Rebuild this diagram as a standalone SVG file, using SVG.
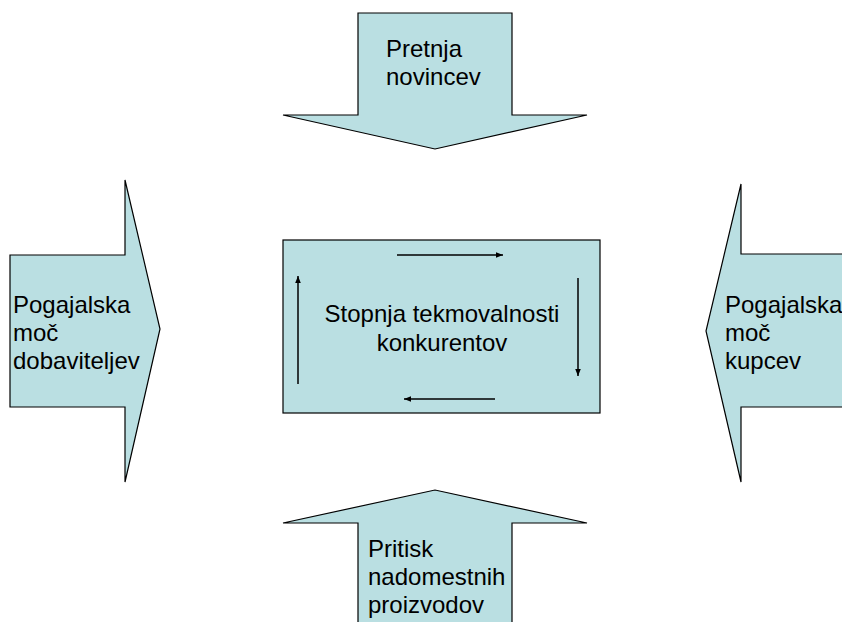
<svg xmlns="http://www.w3.org/2000/svg" width="842" height="622" viewBox="0 0 842 622">
<style>
.shape{fill:#badfe2;stroke:#000;stroke-width:1.2}
.t{font-family:"Liberation Sans",Arial,sans-serif;font-size:24px;fill:#000}
.c{stroke:#000;stroke-width:1.5;fill:none;marker-end:url(#ah)}
</style>
<defs>
<marker id="ah" viewBox="0 0 10 10" refX="10" refY="5" markerWidth="8" markerHeight="7" orient="auto" markerUnits="userSpaceOnUse">
<path d="M0,1 L10,5 L0,9 Z" fill="#000"/>
</marker>
</defs>
<rect width="842" height="622" fill="#fff"/>
<g id="top-arrow">
<polygon class="shape" points="358,13 512,13 512,115 587,115 435,149 283,115 358,115"/>
<text class="t" x="386" y="57">Pretnja</text>
<text class="t" x="386" y="85">novincev</text>
</g>
<g id="left-arrow">
<polygon class="shape" points="10,255 125,255 125,180 160,329 125,482 125,407 10,407"/>
<text class="t" x="13" y="313">Pogajalska</text>
<text class="t" x="13" y="341">moč</text>
<text class="t" x="13" y="369">dobaviteljev</text>
</g>
<g id="right-arrow">
<polygon class="shape" points="850,254 741,254 741,184 706,331 741,482 741,407 850,407"/>
<text class="t" x="725" y="313">Pogajalska</text>
<text class="t" x="725" y="341">moč</text>
<text class="t" x="725" y="369">kupcev</text>
</g>
<g id="bottom-arrow">
<polygon class="shape" points="358,630 358,523 283,523 435,490 587,523 512,523 512,630"/>
<text class="t" x="368" y="557">Pritisk</text>
<text class="t" x="368" y="585">nadomestnih</text>
<text class="t" x="368" y="613">proizvodov</text>
</g>
<g id="center">
<rect class="shape" x="283" y="240" width="317" height="173"/>
<text class="t" x="442" y="322" text-anchor="middle">Stopnja tekmovalnosti</text>
<text class="t" x="442" y="351" text-anchor="middle">konkurentov</text>
</g>
<g id="connectors">
<line class="c" x1="397" y1="255" x2="503" y2="255"/>
<line class="c" x1="578" y1="278" x2="578" y2="376"/>
<line class="c" x1="495" y1="399" x2="404" y2="399"/>
<line class="c" x1="298" y1="384" x2="298" y2="276"/>
</g>
</svg>
